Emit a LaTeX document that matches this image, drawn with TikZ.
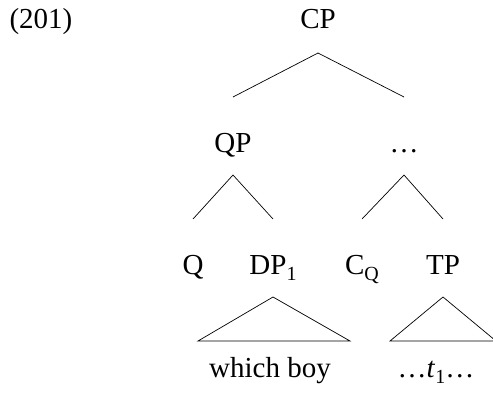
\documentclass[tikz,border=0pt]{standalone}
\usepackage{fontspec}
\setmainfont{Liberation Serif}
\newcommand{\mysub}[1]{\raisebox{-0.22em}{\fontsize{20}{20}\selectfont #1}}
\begin{document}
\begin{tikzpicture}[x=1pt,y=-1pt,
  lbl/.style={anchor=base,inner sep=0pt,font=\fontsize{29}{34}\selectfont},
  edge/.style={line width=0.7pt}]
\useasboundingbox (0,0) rectangle (493,402);
\node[lbl] (ex) at (41,28) {(201)};
\node[lbl] (cp) at (318,28) {CP};
\node[lbl] (qp) at (233,152) {QP};
\node[lbl] (dots) at (404,152) {\ldots};
\node[lbl] (q) at (193,274) {Q};
\node[lbl] (dp) at (273,274) {DP\mysub{1}};
\node[lbl] (cq) at (362,274) {C\mysub{Q}};
\node[lbl] (tp) at (443,274) {TP};
\node[lbl] (wb) at (270,377) {which boy};
\node[lbl] (t1) at (436,377) {\ldots\textit{t}\mysub{1}\ldots};
\draw[edge] ([yshift=55pt]qp.base) -- ([yshift=-25pt]cp.base) -- ([yshift=55pt]dots.base);
\draw[edge] ([yshift=55pt]q.base) -- ([yshift=-23pt]qp.base) -- ([yshift=55pt]dp.base);
\draw[edge] ([yshift=55pt]cq.base) -- ([yshift=-23pt]dots.base) -- ([yshift=55pt]tp.base);
\draw[edge] ([yshift=-23pt]dp.base) -- ([xshift=-75pt,yshift=-67pt]dp.base) -- ([xshift=77pt,yshift=-67pt]dp.base) -- cycle;
\draw[edge] ([yshift=-23pt]tp.base) -- ([xshift=-53pt,yshift=-67pt]tp.base) -- ([xshift=53pt,yshift=-67pt]tp.base) -- cycle;
\end{tikzpicture}
\end{document}
